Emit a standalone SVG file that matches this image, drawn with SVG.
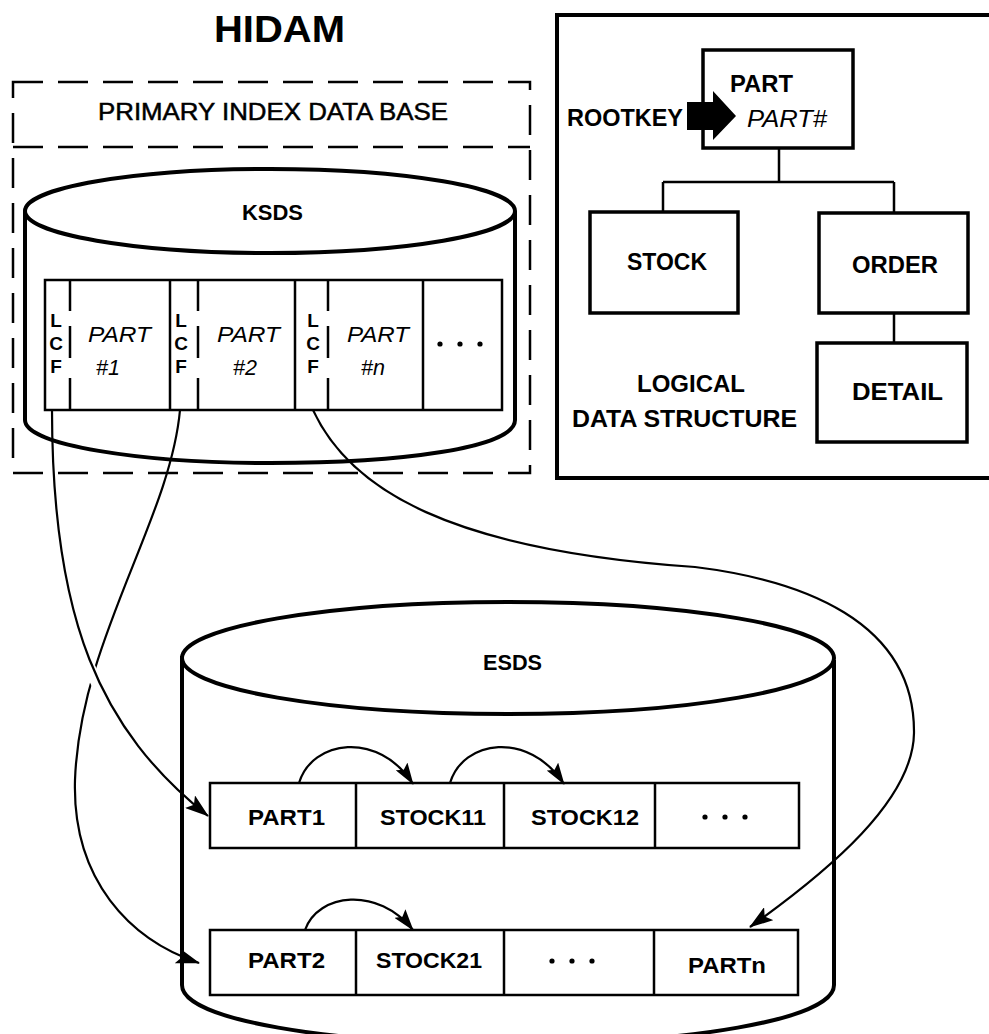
<svg xmlns="http://www.w3.org/2000/svg" width="989" height="1034" viewBox="0 0 989 1034">
<style>
.t{font-family:"Liberation Sans",Arial,sans-serif;fill:#000}
.b{font-weight:bold}
.i{font-style:italic}
.ln{fill:none;stroke:#000;stroke-width:2.5}
.th{fill:none;stroke:#000;stroke-width:3.5}
.cyl{fill:none;stroke:#000;stroke-width:4}
.dash{fill:none;stroke:#000;stroke-width:2.5;stroke-dasharray:30 15}
.con{fill:none;stroke:#000;stroke-width:2.2}
</style>
<defs>
<marker id="ah" markerUnits="userSpaceOnUse" markerWidth="24" markerHeight="16" refX="23" refY="8" orient="auto">
<path d="M0,0 L24,8 L0,16 L5,8 z" fill="#000"/>
</marker>
<marker id="ahs" markerUnits="userSpaceOnUse" markerWidth="22" markerHeight="14" refX="21" refY="7" orient="auto">
<path d="M0,0 L22,7 L0,14 L4,7 z" fill="#000"/>
</marker>
</defs>
<rect width="989" height="1034" fill="#fff"/>

<text id="title" class="t b" x="214" y="42" font-size="37" textLength="131" lengthAdjust="spacingAndGlyphs">HIDAM</text>

<g id="primary-index">
<rect class="dash" x="13" y="82" width="517" height="391"/>
<line class="dash" x1="13" y1="147" x2="530" y2="147"/>
<text class="t" x="98" y="120" font-size="23.5" stroke="#000" stroke-width="0.5" textLength="350" lengthAdjust="spacingAndGlyphs">PRIMARY INDEX DATA BASE</text>
</g>

<g id="ksds">
<ellipse class="cyl" cx="270" cy="211" rx="245" ry="42"/>
<path class="cyl" d="M25,211 V420 C25,445 140,463 270,463 C400,463 515,448 515,420 V211"/>
<text class="t b" x="242" y="220" font-size="21.5" textLength="61" lengthAdjust="spacingAndGlyphs">KSDS</text>
<rect class="ln" x="45" y="280" width="457" height="130"/>
<g class="ln">
<path d="M70,280 V311 M70,326 V358 M70,378 V410"/>
<path d="M198,280 V311 M198,326 V358 M198,378 V410"/>
<path d="M328,280 V311 M328,326 V358 M328,378 V410"/>
<path d="M170,280 V410 M295,280 V410 M423,280 V410"/>
</g>
<g class="t b" font-size="19" text-anchor="middle">
<text x="56" y="327">L</text><text x="56" y="350">C</text><text x="56" y="373">F</text>
<text x="181" y="327">L</text><text x="181" y="350">C</text><text x="181" y="373">F</text>
<text x="313" y="327">L</text><text x="313" y="350">C</text><text x="313" y="373">F</text>
</g>
<g class="t i" font-size="21.5">
<text x="88" y="342" textLength="63" lengthAdjust="spacingAndGlyphs">PART</text>
<text x="96" y="375">#1</text>
<text x="217" y="342" textLength="63" lengthAdjust="spacingAndGlyphs">PART</text>
<text x="233" y="375">#2</text>
<text x="347" y="342" textLength="62" lengthAdjust="spacingAndGlyphs">PART</text>
<text x="361" y="375">#n</text>
</g>
<circle cx="440" cy="344" r="2.6"/><circle cx="460" cy="344" r="2.6"/><circle cx="480" cy="344" r="2.6"/>
</g>

<g id="logical-structure">
<rect x="557" y="15" width="450" height="463" fill="none" stroke="#000" stroke-width="4"/>
<text class="t b" x="637" y="392" font-size="23" textLength="108" lengthAdjust="spacingAndGlyphs">LOGICAL</text>
<text class="t b" x="572" y="427" font-size="23" textLength="225" lengthAdjust="spacingAndGlyphs">DATA STRUCTURE</text>
</g>
<g id="node-part">
<rect class="th" x="703" y="50" width="150" height="98"/>
<text class="t b" x="730" y="92" font-size="23" textLength="63" lengthAdjust="spacingAndGlyphs">PART</text>
<text class="t i" x="747" y="127" font-size="23" textLength="80" lengthAdjust="spacingAndGlyphs">PART#</text>
</g>
<g id="rootkey">
<text class="t b" x="567" y="126" font-size="23" textLength="116" lengthAdjust="spacingAndGlyphs">ROOTKEY</text>
<polygon points="687,102 713,102 713,91 736,116 713,140 713,130 687,130" fill="#000"/>
</g>
<g id="node-stock">
<rect class="th" x="590" y="212" width="148" height="101"/>
<text class="t b" x="627" y="270" font-size="23" textLength="80" lengthAdjust="spacingAndGlyphs">STOCK</text>
</g>
<g id="node-order">
<rect class="th" x="819" y="213" width="149" height="100"/>
<text class="t b" x="852" y="273" font-size="23" textLength="86" lengthAdjust="spacingAndGlyphs">ORDER</text>
</g>
<g id="node-detail">
<rect class="th" x="817" y="343" width="150" height="99"/>
<text class="t b" x="852" y="400" font-size="23" textLength="91" lengthAdjust="spacingAndGlyphs">DETAIL</text>
</g>

<g id="esds">
<ellipse class="cyl" cx="508" cy="658" rx="326" ry="56"/>
<path class="cyl" d="M182,656 V985 C182,1020 330,1044 508,1044 C686,1044 834,1020 834,985 V660"/>
<text class="t b" x="483" y="670" font-size="21.5" textLength="59" lengthAdjust="spacingAndGlyphs">ESDS</text>
<rect class="ln" x="210" y="783" width="589" height="65"/>
<path class="ln" d="M356,783 V848 M504,783 V848 M655,783 V848"/>
<rect class="ln" x="210" y="930" width="588" height="65"/>
<path class="ln" d="M356,930 V995 M504,930 V995 M654,930 V995"/>
<g class="t b" font-size="22.5">
<text x="248" y="825" textLength="77" lengthAdjust="spacingAndGlyphs">PART1</text>
<text x="380" y="825" textLength="106" lengthAdjust="spacingAndGlyphs">STOCK11</text>
<text x="531" y="825" textLength="108" lengthAdjust="spacingAndGlyphs">STOCK12</text>
<text x="248" y="968" textLength="77" lengthAdjust="spacingAndGlyphs">PART2</text>
<text x="376" y="968" textLength="106" lengthAdjust="spacingAndGlyphs">STOCK21</text>
<text x="688" y="973" textLength="78" lengthAdjust="spacingAndGlyphs">PARTn</text>
</g>
<circle cx="705" cy="817" r="2.6"/><circle cx="725" cy="817" r="2.6"/><circle cx="745" cy="817" r="2.6"/>
<circle cx="552" cy="961" r="2.6"/><circle cx="572" cy="961" r="2.6"/><circle cx="592" cy="961" r="2.6"/>
</g>

<g id="connectors">
<path class="ln" d="M779,148 V182 M663,182 H894 M663,182 V212 M894,182 V213 M894,313 V343"/>
<path class="con" d="M180,410 C170,520 80,640 75,780 C72,880 130,940 199,963" marker-end="url(#ah)"/>
<line x1="86" y1="660" x2="102" y2="694" stroke="#fff" stroke-width="12"/>
<path class="con" d="M52,410 C52,620 100,730 208,816" marker-end="url(#ah)"/>
<path class="con" d="M313,410 C350,490 450,550 695,567 C800,580 915,620 914,733 C913,800 830,870 750,927" marker-end="url(#ah)"/>
<path class="con" d="M299,783 C312,740 378,730 413,784" marker-end="url(#ahs)"/>
<path class="con" d="M450,783 C463,740 528,730 564,784" marker-end="url(#ahs)"/>
<path class="con" d="M305,930 C318,893 378,886 413,930" marker-end="url(#ahs)"/>
</g>
</svg>
